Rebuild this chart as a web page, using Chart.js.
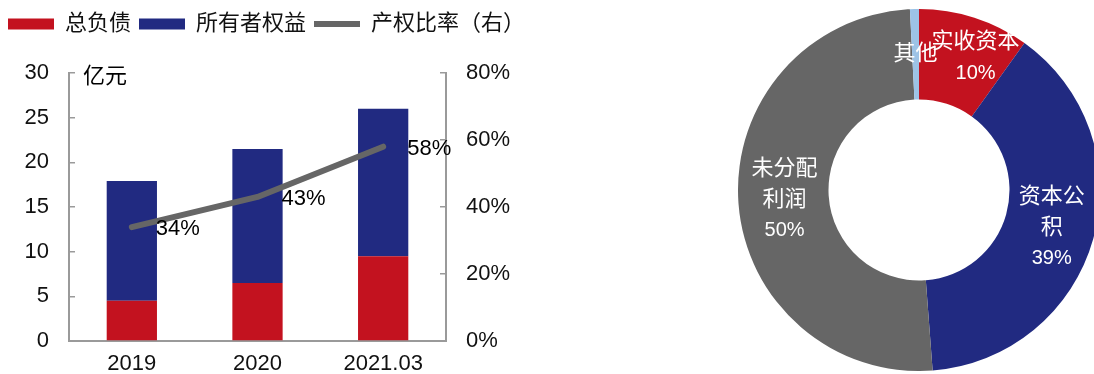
<!DOCTYPE html>
<html>
<head>
<meta charset="utf-8">
<script src="https://cdn.jsdelivr.net/npm/chart.js@4"></script>
<style>
  html, body { margin: 0; padding: 0; background: #fff; width: 1094px; height: 374px; overflow: hidden; }
  #barBox { position: absolute; left: 0; top: 0; width: 560px; height: 374px; }
  #pieBox { position: absolute; left: 738px; top: 9px; width: 362px; height: 362px; }
</style>
</head>
<body>
<div id="barBox"><canvas id="barChart"></canvas></div>
<div id="pieBox"><canvas id="pieChart"></canvas></div>
<script>
// === data ===
const years = ['2019', '2020', '2021.03'];
const totalDebt = [4.5, 6.5, 9.5];          // 总负债, 亿元
const ownerEquity = [13.4, 15.0, 16.5];     // 所有者权益, 亿元
const equityRatio = [0.34, 0.43, 0.58];     // 产权比率 (右轴)

const equityParts = ['实收资本', '资本公积', '未分配利润', '其他'];
const equityShares = [9.9, 38.9, 50.4, 0.8];
const partLabelLines = [['实收资本'], ['资本公', '积'], ['未分配', '利润'], ['其他']];
const partShowPct = [true, true, true, false];

const RED = '#C3121F', NAVY = '#212A81', GREY = '#666666', LIGHT = '#9DC3E6';
const AXIS = '#9a9a9a';
const FONT = "'Liberation Sans', 'Noto Sans CJK SC', sans-serif";

// extra room under the legend so the plot starts lower
const legendGap = {
    id: 'legendGap',
    beforeInit(chart) {
        const fit = chart.legend.fit;
        chart.legend.fit = function () {
            fit.call(this);
            this.height += 28;
        };
    }
};

// labels next to the ratio line + unit text
const ratioLabels = {
    id: 'ratioLabels',
    afterDatasetsDraw(chart) {
        const ctx = chart.ctx;
        const meta = chart.getDatasetMeta(2);
        ctx.save();
        ctx.fillStyle = '#000';
        ctx.font = '22px ' + FONT;
        ctx.textAlign = 'left';
        ctx.textBaseline = 'middle';
        meta.data.forEach((pt, i) => {
            ctx.fillText(Math.round(equityRatio[i] * 100) + '%', pt.x + 24, pt.y + 2);
        });
        ctx.fillText('亿元', chart.chartArea.left + 14, chart.chartArea.top + 4);
        ctx.restore();
    }
};

// y axes: fixed width, no extra padding above/below the plot
function fixY(width) {
    return s => { s.width = width; s.paddingTop = 0; s.paddingBottom = 0; };
}

new Chart(document.getElementById('barChart'), {
    data: {
        labels: years,
        datasets: [
            { type: 'bar', label: '总负债', data: totalDebt, backgroundColor: RED, borderWidth: 0, order: 1, categoryPercentage: 0.5, barPercentage: 0.8 },
            { type: 'bar', label: '所有者权益', data: ownerEquity, backgroundColor: NAVY, borderWidth: 0, order: 1, categoryPercentage: 0.5, barPercentage: 0.8 },
            { type: 'line', label: '产权比率（右）', data: equityRatio, yAxisID: 'y1', borderColor: GREY, backgroundColor: GREY, borderWidth: 6, borderCapStyle: 'round', borderJoinStyle: 'round', pointRadius: 0, tension: 0, order: 0 }
        ]
    },
    options: {
        responsive: true,
        maintainAspectRatio: false,
        animation: false,
        layout: { padding: { top: 5, left: 0, right: 0, bottom: 0 } },
        plugins: {
            legend: {
                align: 'start',
                labels: {
                    color: '#111', font: { size: 22, family: FONT }, padding: 8,
                    usePointStyle: true, pointStyleWidth: 46, boxHeight: 11,
                    sort: (a, b) => a.datasetIndex - b.datasetIndex,
                    generateLabels(chart) {
                        const items = Chart.defaults.plugins.legend.labels.generateLabels(chart);
                        items.forEach(it => {
                            const ds = chart.data.datasets[it.datasetIndex];
                            it.pointStyle = ds.type === 'line' ? 'line' : 'rect';
                        });
                        return items;
                    }
                }
            },
            tooltip: { enabled: false }
        },
        scales: {
            x: {
                stacked: true,
                grid: { display: false, drawTicks: false },
                border: { color: AXIS, width: 2 },
                ticks: { color: '#111', font: { size: 22, family: FONT }, padding: 10 },
                afterFit(s) { s.height = 33; }
            },
            y: {
                stacked: true, min: 0, max: 30,
                grid: { drawOnChartArea: false, color: AXIS, lineWidth: 1.5, tickLength: -6 },
                border: { color: AXIS, width: 2 },
                ticks: { stepSize: 5, color: '#111', font: { size: 22, family: FONT }, padding: 26 },
                afterFit: fixY(69)
            },
            y1: {
                position: 'right', min: 0, max: 0.8,
                grid: { drawOnChartArea: false, color: AXIS, lineWidth: 1.5, tickLength: -6 },
                border: { color: AXIS, width: 2 },
                ticks: { stepSize: 0.2, color: '#111', font: { size: 22, family: FONT }, padding: 26,
                    callback: v => Math.round(v * 100) + '%' },
                afterFit: fixY(114)
            }
        }
    },
    plugins: [legendGap, ratioLabels]
});

// labels inside the doughnut slices
const sliceLabels = {
    id: 'sliceLabels',
    afterDatasetsDraw(chart) {
        const ctx = chart.ctx;
        const meta = chart.getDatasetMeta(0);
        const sum = equityShares.reduce((a, b) => a + b, 0);
        const shift = [[15, -3], [2, 1], [1, 1], [0, 0]];
        ctx.save();
        ctx.fillStyle = '#fff';
        ctx.textAlign = 'center';
        ctx.textBaseline = 'middle';
        meta.data.forEach((arc, i) => {
            const p = arc.tooltipPosition();
            const lines = partLabelLines[i].slice();
            if (partShowPct[i]) lines.push(Math.round(equityShares[i] / sum * 100) + '%');
            const cx = p.x + shift[i][0];
            const y0 = p.y + shift[i][1] - (lines.length - 1) * 31 / 2;
            lines.forEach((t, k) => {
                ctx.font = /%$/.test(t) ? '20px ' + FONT : '22px ' + FONT;
                ctx.fillText(t, cx, y0 + k * 31);
            });
        });
        ctx.restore();
    }
};

new Chart(document.getElementById('pieChart'), {
    type: 'doughnut',
    data: {
        labels: equityParts,
        datasets: [{ data: equityShares, backgroundColor: [RED, NAVY, GREY, LIGHT], borderWidth: 0 }]
    },
    options: {
        responsive: true,
        maintainAspectRatio: false,
        animation: false,
        cutout: '50%',
        layout: { padding: 0 },
        plugins: { legend: { display: false }, tooltip: { enabled: false } }
    },
    plugins: [sliceLabels]
});
</script>
</body>
</html>
